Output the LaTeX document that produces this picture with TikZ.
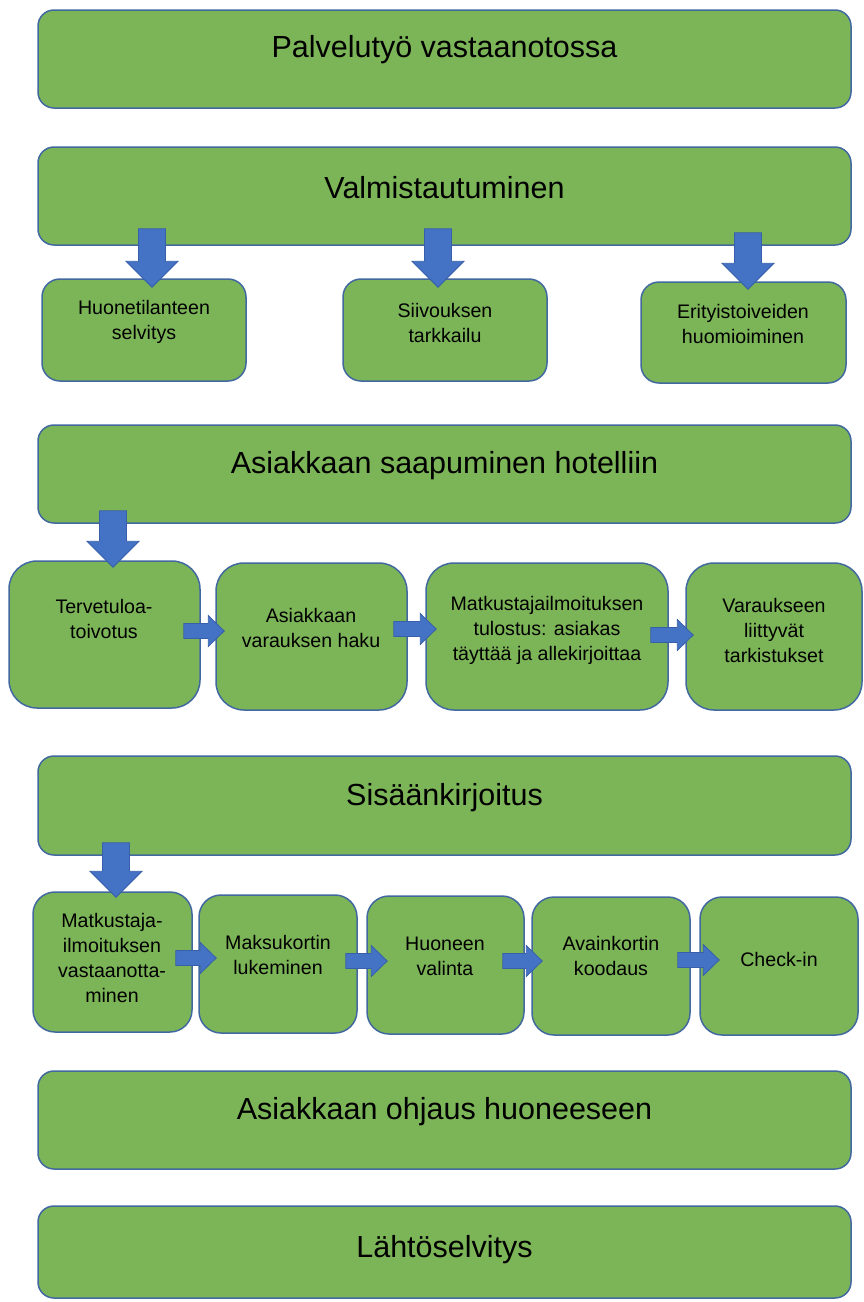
\documentclass[tikz,border=0pt]{standalone}
\usepackage{fontspec}
\setmainfont{Liberation Sans}
\usetikzlibrary{calc,fit}

\definecolor{boxgreen}{RGB}{124,181,88}
\definecolor{boxedge}{RGB}{65,105,160}
\definecolor{arrowblue}{RGB}{68,114,196}
\definecolor{arrowedge}{RGB}{55,95,170}

\tikzset{
  box/.style={rectangle, draw=boxedge, line width=1.5pt, fill=boxgreen, inner sep=0pt},
  stage/.style={box, rounded corners=16pt},
  task/.style={box, rounded corners=#1},
  stagetext/.style={font=\fontsize{30.5}{36}\selectfont, inner sep=0pt},
  tasktext/.style={font=\fontsize{19.6}{25}\selectfont, align=center, inner sep=0pt},
  % block arrow pointing down, from the shaft top to the tip
  fatdown/.style={draw=arrowedge, fill=arrowblue, line width=0.8pt,
    to path={let \p1=(\tikztostart), \p2=(\tikztotarget) in
      (\x1-13.5pt,\y1) -- (\x1+13.5pt,\y1) -- (\x1+13.5pt,\y2+26pt)
      -- (\x1+26pt,\y2+26pt) -- (\x1,\y2) -- (\x1-26pt,\y2+26pt)
      -- (\x1-13.5pt,\y2+26pt) -- cycle}},
  % block arrow pointing right, from the shaft end to the tip
  fatright/.style={draw=arrowedge, fill=arrowblue, line width=0.8pt,
    to path={let \p1=(\tikztostart), \p2=(\tikztotarget) in
      (\x1,\y1+7.5pt) -- (\x2-16pt,\y1+7.5pt) -- (\x2-16pt,\y1+15.5pt)
      -- (\x2,\y1) -- (\x2-16pt,\y1-15.5pt) -- (\x2-16pt,\y1-7.5pt)
      -- (\x1,\y1-7.5pt) -- cycle}},
}

\begin{document}
\begin{tikzpicture}[x=1pt,y=-1pt]
\useasboundingbox (0,0) rectangle (864,1302);

% main stages
\node[stage, fit={(38,10) (851,108)}] (b1) {};
\node[stage, fit={(38,147) (851,245)}] (b2) {};
\node[stage, fit={(38,425) (851,523)}] (b3) {};
\node[stage, fit={(38,756) (851,855)}] (b4) {};
\node[stage, fit={(38,1071) (851,1169)}] (b5) {};
\node[stage, fit={(38,1206) (851,1298)}] (b6) {};

\node[stagetext] (b1t) at (444.5,50) {Palvelutyö vastaanotossa};
\node[stagetext] (b2t) at (444.5,188) {Valmistautuminen};
\node[stagetext] (b3t) at (444.5,466) {Asiakkaan saapuminen hotelliin};
\node[stagetext] (b4t) at (444.5,798) {Sisäänkirjoitus};
\node[stagetext] (b5t) at (444.5,1112) {Asiakkaan ohjaus huoneeseen};
\node[stagetext] (b6t) at (444.5,1250) {Lähtöselvitys};

% preparation tasks
\node[task=18pt, fit={(42,279) (246,381)}] (s1) {};
\node[task=18pt, fit={(343,279) (547,381)}] (s2) {};
\node[task=18pt, fit={(641,282) (846,383)}] (s3) {};
\node[tasktext] (s1t) at (144,322) {Huonetilanteen\\selvitys};
\node[tasktext] (s2t) at (445,323) {Siivouksen\\tarkkailu};
\node[tasktext] (s3t) at (743,324) {Erityistoiveiden\\huomioiminen};

% arrival tasks
\node[task=28pt, fit={(9,561) (200,708)}] (r1) {};
\node[task=28pt, fit={(216,563) (407,710)}] (r2) {};
\node[task=28pt, fit={(426,563) (668,710)}] (r3) {};
\node[task=28pt, fit={(686,563) (862,710)}] (r4) {};
\node[tasktext] (r1t) at (104,619) {Tervetuloa-\\toivotus};
\node[tasktext] (r2t) at (311,628) {Asiakkaan\\varauksen haku};
\node[tasktext] (r3t) at (547,630) {Matkustajailmoituksen\\tulostus: asiakas\\täyttää ja allekirjoittaa};
\node[tasktext] (r4t) at (774,630) {Varaukseen\\liittyvät\\tarkistukset};

% check-in tasks
\node[task=22pt, fit={(33,892) (192,1032)}] (q1) {};
\node[task=22pt, fit={(199,895) (357,1033)}] (q2) {};
\node[task=22pt, fit={(367,896) (524,1034)}] (q3) {};
\node[task=22pt, fit={(532,897) (690,1035)}] (q4) {};
\node[task=22pt, fit={(700,897) (858,1035)}] (q5) {};
\node[tasktext] (q1t) at (112,958) {Matkustaja-\\ilmoituksen\\vastaanotta-\\minen};
\node[tasktext] (q2t) at (278,955) {Maksukortin\\lukeminen};
\node[tasktext] (q3t) at (445,956) {Huoneen\\valinta};
\node[tasktext] (q4t) at (611,956) {Avainkortin\\koodaus};
\node[tasktext] (q5t) at (779,959) {Check-in};

% downward block arrows
\draw[fatdown] ($(s1.north |- b2.south)+(8,-17)$) to ($(s1.north)+(8,9)$);
\draw[fatdown] ($(s2.north |- b2.south)+(-7,-17)$) to ($(s2.north)+(-7,9)$);
\draw[fatdown] ($(s3.north |- b2.south)+(4.5,-13)$) to ($(s3.north)+(4.5,8)$);
\draw[fatdown] ($(r1.north |- b3.south)+(8.5,-13)$) to ($(r1.north)+(8.5,7)$);
\draw[fatdown] ($(q1.north |- b4.south)+(3.5,-13)$) to ($(q1.north)+(3.5,6)$);

% rightward block arrows
\draw[fatright] ($(r1.east)+(-17,-3.5)$) to ($(r2.west |- r1.east)+(9,-3.5)$);
\draw[fatright] ($(r2.east)+(-14,-7.5)$) to ($(r3.west |- r2.east)+(11,-7.5)$);
\draw[fatright] ($(r3.east)+(-18,-1.5)$) to ($(r4.west |- r3.east)+(8,-1.5)$);
\draw[fatright] ($(q1.east)+(-17,-4)$) to ($(q2.west |- q1.east)+(18,-4)$);
\draw[fatright] ($(q2.east)+(-12,-3)$) to ($(q3.west |- q2.east)+(21,-3)$);
\draw[fatright] ($(q3.east)+(-22,-4)$) to ($(q4.west |- q3.east)+(11,-4)$);
\draw[fatright] ($(q4.east)+(-13,-6)$) to ($(q5.west |- q4.east)+(20,-6)$);
\end{tikzpicture}
\end{document}
